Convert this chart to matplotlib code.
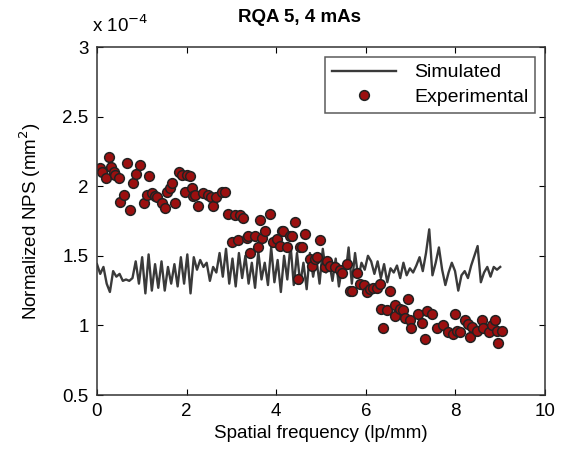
import numpy as np
import matplotlib
matplotlib.use("Agg")
import matplotlib.pyplot as plt

plt.rcParams['font.family'] = ['Liberation Sans', 'DejaVu Sans']

# Simulated NPS (units of 1e-4 mm^2), sampled uniformly from 0 to 9 lp/mm
sim_nps = [1.44, 1.37, 1.42, 1.30, 1.24, 1.39, 1.35, 1.37, 1.32, 1.33, 1.32, 1.34, 1.46, 1.30, 1.49,
           1.23, 1.51, 1.25, 1.44, 1.27, 1.46, 1.25, 1.42, 1.30, 1.44, 1.28, 1.49, 1.30, 1.51,
           1.23, 1.49, 1.40, 1.47, 1.42, 1.45, 1.32, 1.42, 1.38, 1.52, 1.35, 1.55, 1.30,
           1.48, 1.28, 1.52, 1.34, 1.50, 1.30, 1.45, 1.27, 1.53, 1.33, 1.45, 1.29, 1.56, 1.31,
           1.47, 1.24, 1.50, 1.33, 1.58, 1.29, 1.52, 1.30, 1.45, 1.26, 1.52, 1.35, 1.48,
           1.30, 1.55, 1.38, 1.45, 1.32, 1.48, 1.28, 1.42, 1.36, 1.56, 1.30, 1.52, 1.34, 1.45,
           1.40, 1.50, 1.46, 1.37, 1.46, 1.34, 1.44, 1.31, 1.41, 1.38, 1.43, 1.34, 1.45, 1.36,
           1.41, 1.38, 1.43, 1.49, 1.39, 1.52, 1.69, 1.36, 1.45, 1.56, 1.40, 1.29, 1.38, 1.45,
           1.39, 1.25, 1.36, 1.39, 1.34, 1.43, 1.50, 1.57, 1.31, 1.38, 1.42, 1.35, 1.42, 1.40, 1.42]
sim_freq = np.linspace(0.0, 9.0, len(sim_nps))

exp_freq = [0.07, 0.12, 0.19, 0.26, 0.31, 0.38, 0.41, 0.48, 0.52, 0.60, 0.67, 0.74, 0.80, 0.88, 0.95,
            1.04, 1.12, 1.17, 1.23, 1.30, 1.34, 1.45, 1.52, 1.56, 1.62, 1.67, 1.75, 1.84, 1.90, 1.97,
            2.01, 2.07, 2.12, 2.15, 2.19, 2.26, 2.37, 2.48, 2.55, 2.60, 2.66, 2.78, 2.86, 2.93,
            3.01, 3.08, 3.15, 3.19, 3.27, 3.34, 3.38, 3.42, 3.53, 3.60, 3.64, 3.68, 3.75, 3.86, 3.93,
            4.01, 4.08, 4.12, 4.16, 4.23, 4.31, 4.35, 4.42, 4.49, 4.53, 4.57, 4.64, 4.75, 4.79, 4.87,
            4.90, 4.98, 5.09, 5.13, 5.20, 5.31, 5.42, 5.46, 5.57, 5.65, 5.69, 5.80, 5.87, 5.95,
            6.02, 6.09, 6.17, 6.24, 6.32, 6.35, 6.39, 6.47, 6.54, 6.65, 6.65, 6.76, 6.84, 6.88, 6.95,
            6.99, 7.02, 7.17, 7.25, 7.32, 7.36, 7.47, 7.58, 7.73, 7.84, 7.95, 7.99,
            8.04, 8.10, 8.21, 8.29, 8.33, 8.36, 8.48, 8.59, 8.62, 8.74, 8.81, 8.88, 8.92, 8.96, 9.03]
exp_nps = [2.13, 2.10, 2.06, 2.21, 2.14, 2.10, 2.08, 2.06, 1.89, 1.94, 2.17, 1.83, 2.02, 2.09, 2.15,
           1.88, 1.94, 2.07, 1.95, 1.93, 1.92, 1.88, 1.84, 1.96, 1.99, 2.02, 1.88, 2.10, 2.08, 1.96,
           2.08, 2.07, 1.99, 1.93, 1.94, 1.86, 1.95, 1.94, 1.92, 1.86, 1.92, 1.96, 1.96, 1.80,
           1.60, 1.79, 1.61, 1.79, 1.77, 1.63, 1.64, 1.52, 1.64, 1.56, 1.76, 1.63, 1.68, 1.80, 1.60,
           1.62, 1.57, 1.68, 1.68, 1.56, 1.64, 1.64, 1.74, 1.33, 1.56, 1.56, 1.66, 1.48, 1.43, 1.48,
           1.49, 1.61, 1.42, 1.46, 1.43, 1.42, 1.40, 1.38, 1.44, 1.25, 1.25, 1.38, 1.30, 1.29,
           1.24, 1.26, 1.27, 1.27, 1.30, 1.12, 0.98, 1.11, 1.25, 1.15, 1.07, 1.12, 1.11, 1.05, 1.19,
           1.04, 0.98, 1.08, 1.02, 0.90, 1.10, 1.08, 0.98, 1.00, 0.95, 0.94, 1.08,
           0.96, 0.95, 1.04, 1.01, 0.92, 0.99, 0.96, 1.04, 0.98, 0.95, 1.00, 1.04, 0.96, 0.87, 0.96]

x_ticks = [0, 2, 4, 6, 8, 10]
y_ticks = [0.5, 1, 1.5, 2, 2.5, 3]
y_tick_labels = ['0.5', '1', '1.5', '2', '2.5', '3']

fig = plt.figure(figsize=(5.62, 4.63), dpi=100)
ax = fig.add_axes([97/562, 1-395/463, (545-97)/562, (395-47)/463])

ax.plot(sim_freq, sim_nps, color='#3a3a3a', lw=1.7, label='Simulated')
ax.plot(exp_freq, exp_nps, ls='none', marker='o', ms=7, mfc='#9b1010', mec='#222222',
        mew=1.1, label='Experimental')

ax.set_xlim(0, 10)
ax.set_ylim(0.5, 3)
ax.set_xticks(x_ticks)
ax.set_yticks(y_ticks)
ax.set_yticklabels(y_tick_labels)
ax.tick_params(direction='in', top=True, right=True, labelsize=13.5, length=4, width=0.8, pad=6)
for s in ax.spines.values():
    s.set_linewidth(1.1)
    s.set_color('#333333')

ax.set_xlabel('Spatial frequency (lp/mm)', fontsize=13.5, labelpad=3)
ax.set_ylabel('Normalized NPS (mm$^2$)', fontsize=13.5, labelpad=14)
fig.text(300/562, 1-18/463, 'RQA 5, 4 mAs', ha='center', va='center', fontsize=13.5, fontweight='bold')
fig.text(92/562, 1-25/463, r'x 10$^{-4}$', ha='left', va='center', fontsize=13.5)

leg = ax.legend(loc='upper right', fontsize=14, frameon=True, fancybox=False,
                edgecolor='#333333', bbox_to_anchor=(535/562, 1-57/463),
                bbox_transform=fig.transFigure, borderaxespad=0.0,
                handlelength=3.3, handletextpad=0.9, labelspacing=0.35,
                borderpad=0.35)
leg.get_frame().set_linewidth(1.1)

fig.savefig('out.png', dpi=100, facecolor='white')
